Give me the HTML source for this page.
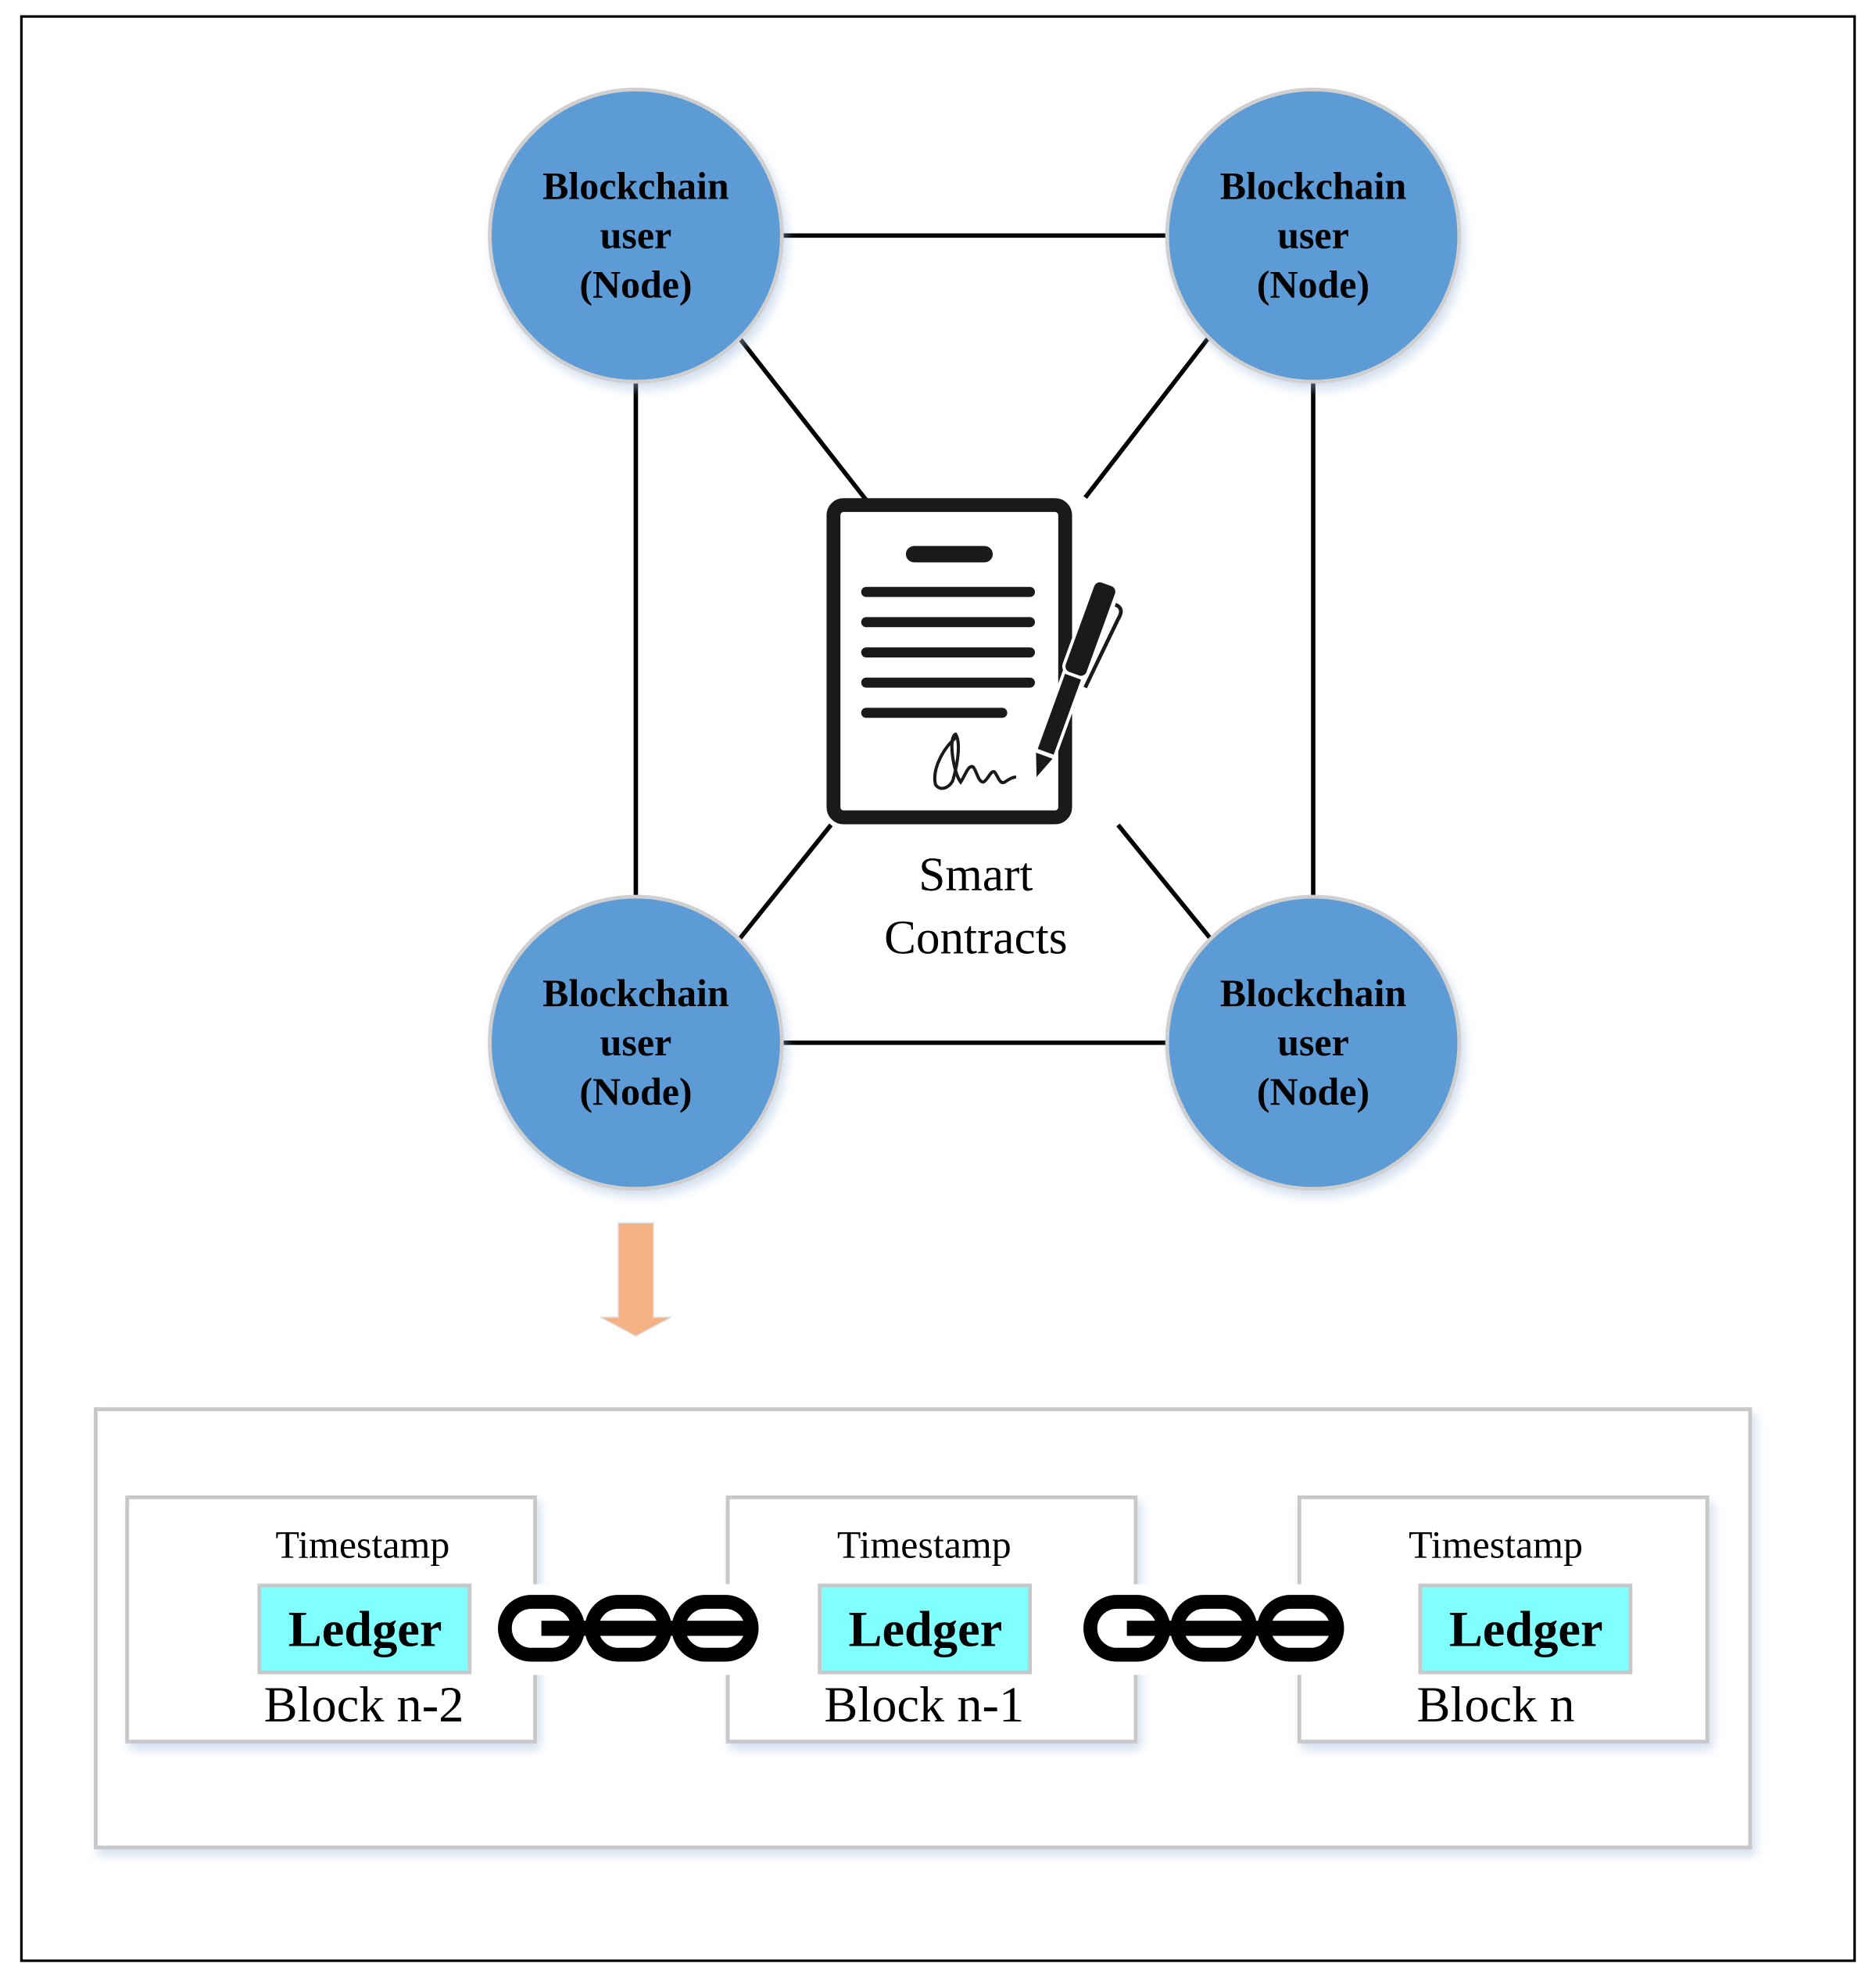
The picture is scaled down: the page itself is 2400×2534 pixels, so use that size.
<!DOCTYPE html>
<html><head><meta charset="utf-8"><style>html,body{margin:0;padding:0;background:#fff}svg{display:block}</style></head>
<body>
<svg width="2400" height="2534" viewBox="0 0 1490 1573" xmlns="http://www.w3.org/2000/svg" font-family="'Liberation Serif', serif">
<defs>
<filter id="sh" x="-10%" y="-10%" width="130%" height="130%"><feDropShadow dx="3" dy="5" stdDeviation="4" flood-color="#9db8dc" flood-opacity="0.45"/></filter>
</defs>
<rect x="17" y="13" width="1456" height="1544" fill="#fff" stroke="#000" stroke-width="2"/>
<g stroke="#000" stroke-width="3.5">
<line x1="620" y1="187" x2="928" y2="187"/>
<line x1="620" y1="828" x2="928" y2="828"/>
<line x1="505" y1="303" x2="505" y2="713"/>
<line x1="1043" y1="303" x2="1043" y2="713"/>
<line x1="587" y1="268" x2="688" y2="397"/>
<line x1="960" y1="268" x2="862" y2="395"/>
<line x1="660" y1="655" x2="587" y2="746"/>
<line x1="888" y1="655" x2="962" y2="746"/>
</g>
<g fill="#5b9bd5" stroke="#cfcfcf" stroke-width="3" filter="url(#sh)">
<circle cx="505" cy="187" r="116"/><circle cx="1043" cy="187" r="116"/>
<circle cx="505" cy="828" r="116"/><circle cx="1043" cy="828" r="116"/>
</g>
<g font-weight="bold" font-size="31" text-anchor="middle" fill="#000">
<text x="505" y="158">Blockchain</text><text x="505" y="197">user</text><text x="505" y="236">(Node)</text>
<text x="1043" y="158">Blockchain</text><text x="1043" y="197">user</text><text x="1043" y="236">(Node)</text>
<text x="505" y="799">Blockchain</text><text x="505" y="838">user</text><text x="505" y="877">(Node)</text>
<text x="1043" y="799">Blockchain</text><text x="1043" y="838">user</text><text x="1043" y="877">(Node)</text>
</g>
<rect x="662" y="401" width="184" height="248" rx="8" fill="#fff" stroke="#1a1a1a" stroke-width="11"/>
<g stroke="#1a1a1a" stroke-linecap="round">
<line x1="726" y1="440" x2="782" y2="440" stroke-width="13"/>
<g stroke-width="8"><line x1="688" y1="470" x2="818" y2="470"/><line x1="688" y1="494" x2="818" y2="494"/><line x1="688" y1="518" x2="818" y2="518"/><line x1="688" y1="542" x2="818" y2="542"/><line x1="688" y1="566" x2="796" y2="566"/></g>
</g>
<g transform="translate(852,538) rotate(20)">
<rect x="-10" y="-80" width="20" height="78" rx="6" fill="#1a1a1a" stroke="#fff" stroke-width="2.5"/>
<rect x="-8" y="-2" width="16" height="66" fill="#1a1a1a" stroke="#fff" stroke-width="2.5"/>
<polygon points="-7,66 7,66 0,84" fill="#1a1a1a"/>
<path d="M12,-66 q8,0 6,10 l-6,60" fill="none" stroke="#1a1a1a" stroke-width="3"/>
</g>
<path d="M760,585 c-10,8 -20,25 -17,38 c4,6 12,2 14,-4 c4,-14 6,-30 2,-36 c-6,2 -2,30 4,38 c4,-6 6,-14 10,-12 c3,4 4,12 8,12 c4,-2 6,-10 9,-8 c3,4 4,10 8,8 c3,-2 6,-4 9,-4" fill="none" stroke="#1a1a1a" stroke-width="2.5"/>
<text x="775" y="707" font-size="38" text-anchor="middle">Smart</text>
<text x="775" y="757" font-size="38" text-anchor="middle">Contracts</text>
<polygon points="491,971 519,971 519,1046 533,1046 505,1061 477,1046 491,1046" fill="#f4b183" stroke="#e0e0e0" stroke-width="1"/>
<rect x="76" y="1119" width="1314" height="348" fill="#fff" stroke="#c8c8c8" stroke-width="3" filter="url(#sh)"/>
<g fill="#fff" stroke="#c8c8c8" stroke-width="3" filter="url(#sh)">
<rect x="101" y="1189" width="324" height="194"/>
<rect x="578" y="1189" width="324" height="194"/>
<rect x="1032" y="1189" width="324" height="194"/>
</g>
<g fill="#80ffff" stroke="#c8c8c8" stroke-width="3">
<rect x="206" y="1259" width="167" height="69"/>
<rect x="651" y="1259" width="167" height="69"/>
<rect x="1128" y="1259" width="167" height="69"/>
</g>
<g text-anchor="middle" fill="#000">
<text x="288" y="1237" font-size="31">Timestamp</text>
<text x="734" y="1237" font-size="31">Timestamp</text>
<text x="1188" y="1237" font-size="31">Timestamp</text>
<text x="290" y="1307" font-size="40" font-weight="bold">Ledger</text>
<text x="735" y="1307" font-size="40" font-weight="bold">Ledger</text>
<text x="1212" y="1307" font-size="40" font-weight="bold">Ledger</text>
<text x="289" y="1367" font-size="40">Block n-2</text>
<text x="734" y="1367" font-size="40">Block n-1</text>
<text x="1188" y="1367" font-size="40">Block n</text>
</g>
<g id="chain">
<rect x="395" y="1258" width="205" height="72" fill="#fff"/>
<g fill="none" stroke="#000" stroke-width="11">
<rect x="401" y="1272" width="58" height="42" rx="21"/>
<rect x="470" y="1272" width="58" height="42" rx="21"/>
<rect x="539" y="1272" width="58" height="42" rx="21"/>
</g>
<rect x="430" y="1287" width="170" height="12" fill="#000"/>
</g>
<use href="#chain" transform="translate(465,0)"/>
</svg>
</body></html>
